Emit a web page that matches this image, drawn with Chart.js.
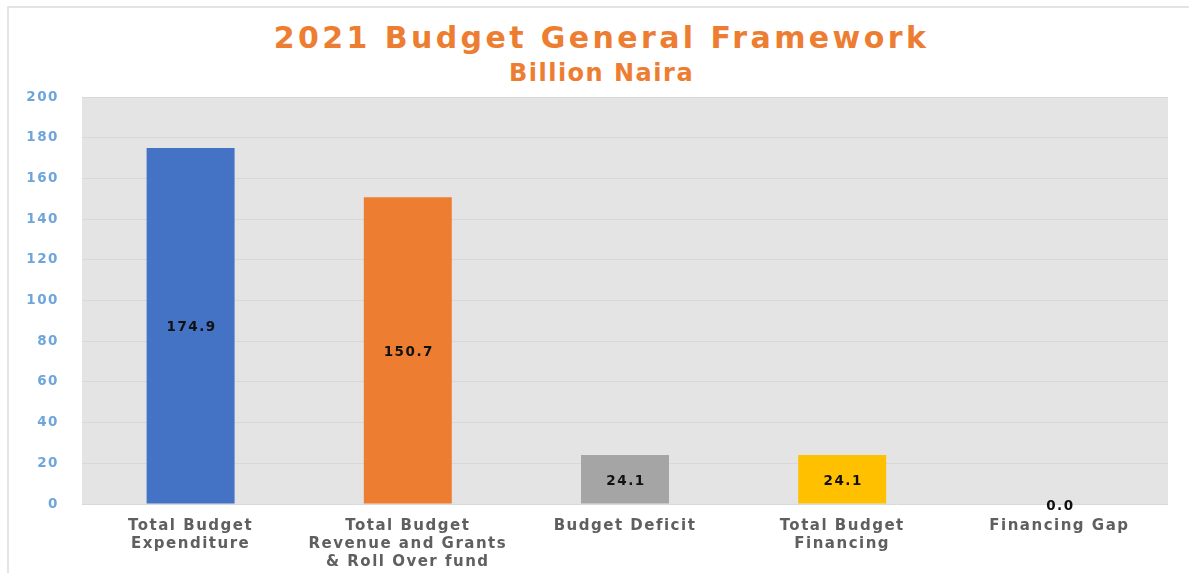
<!DOCTYPE html>
<html>
<head>
<meta charset="utf-8">
<title>2021 Budget General Framework</title>
<script src="https://cdn.jsdelivr.net/npm/chart.js@4.4.1/dist/chart.umd.min.js"></script>
<style>
    html, body { margin: 0; padding: 0; background: #fff; }
    #wrap { position: relative; width: 1189px; height: 573px; overflow: hidden; }
    #frame {
        position: absolute; left: 7px; top: 6px; right: 0; bottom: 0;
        border-top: 2px solid #e4e4e4; border-left: 2px solid #e4e4e4;
    }
    .ttl {
        position: absolute; left: 0; width: 1189px; padding-left: 14px; box-sizing: border-box;
        text-align: center; font-family: "DejaVu Sans", sans-serif; font-weight: bold;
        color: #ED7D31; white-space: nowrap;
    }
    #title { top: 23px; font-size: 30px; line-height: 30px; letter-spacing: 3.4px; }
    #subtitle { top: 61px; font-size: 24px; line-height: 24px; letter-spacing: 1.5px; }
    #chart { position: absolute; left: 0; top: 0; }
</style>
</head>
<body>
<div id="wrap">
    <div id="frame"></div>
    <div class="ttl" id="title">2021 Budget General Framework</div>
    <div class="ttl" id="subtitle">Billion Naira</div>
    <canvas id="chart" width="1189" height="573"></canvas>
</div>

<script>
    var categories = [
        ['Total Budget', 'Expenditure'],
        ['Total Budget', 'Revenue and Grants', '& Roll Over fund'],
        'Budget Deficit',
        ['Total Budget', 'Financing'],
        'Financing Gap'
    ];
    var values = [174.9, 150.7, 24.1, 24.1, 0.0];
    var barColors = ['#4472C4', '#ED7D31', '#A5A5A5', '#FFC000', '#5B9BD5'];
    var yTicks = { min: 0, max: 200, step: 20 };

    var SPACING = '1.5px';

    // canvas letter spacing, the picture is quite stretched sideways
    var spacingPlugin = {
        id: 'spacing',
        beforeLayout: function(chart) { chart.ctx.letterSpacing = SPACING; },
        beforeDraw: function(chart) {
            var a = chart.chartArea;
            var ctx = chart.ctx;
            ctx.letterSpacing = SPACING;
            ctx.save();
            ctx.fillStyle = '#e4e4e4';
            ctx.fillRect(a.left, a.top, a.right - a.left, a.bottom - a.top);
            ctx.restore();
        }
    };

    // value labels in the middle of each bar
    var valueLabels = {
        id: 'valueLabels',
        afterDatasetsDraw: function(chart) {
            var ctx = chart.ctx;
            var meta = chart.getDatasetMeta(0);
            ctx.save();
            ctx.letterSpacing = SPACING;
            ctx.font = 'bold 13.5px "DejaVu Sans"';
            ctx.fillStyle = '#111';
            ctx.textAlign = 'center';
            ctx.textBaseline = 'middle';
            meta.data.forEach(function(bar, i) {
                var p = bar.getProps(['x', 'y', 'base'], true);
                ctx.fillText(values[i].toFixed(1), p.x + 1, (p.y + p.base) / 2 + 2);
            });
            ctx.restore();
        }
    };

    new Chart(document.getElementById('chart'), {
        type: 'bar',
        data: {
            labels: categories,
            datasets: [{
                data: values,
                backgroundColor: barColors,
                borderWidth: 0,
                categoryPercentage: 1,
                barPercentage: 0.405
            }]
        },
        options: {
            responsive: false,
            animation: false,
            layout: { padding: { left: 26, right: 21, top: 97, bottom: 0 } },
            plugins: {
                legend: { display: false },
                tooltip: { enabled: false }
            },
            scales: {
                x: {
                    grid: { display: false },
                    border: { display: false },
                    ticks: {
                        autoSkip: false,
                        maxRotation: 0,
                        padding: 5,
                        color: '#5f5f5f',
                        font: { family: 'DejaVu Sans', size: 15, weight: 'bold', lineHeight: 1.2 }
                    },
                    afterFit: function(scale) { scale.height = 69; }
                },
                y: {
                    min: yTicks.min,
                    max: yTicks.max,
                    grid: { color: '#d8d8d8', drawTicks: false, lineWidth: 1 },
                    border: { display: false },
                    ticks: {
                        stepSize: yTicks.step,
                        padding: 23,
                        color: '#6ea6dc',
                        font: { family: 'DejaVu Sans', size: 13.5, weight: 'bold' }
                    },
                    afterFit: function(scale) { scale.width = 56; }
                }
            }
        },
        plugins: [spacingPlugin, valueLabels]
    });
</script>
</body>
</html>
